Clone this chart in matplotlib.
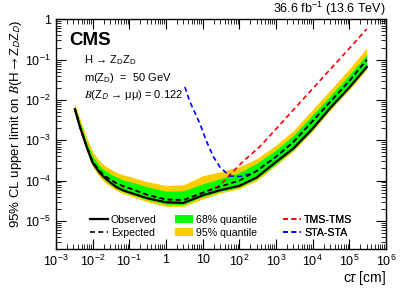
import matplotlib

matplotlib.use("Agg")
import matplotlib.pyplot as plt
from matplotlib.lines import Line2D
from matplotlib.patches import Patch

plt.rcParams["font.family"] = ["Liberation Sans", "DejaVu Sans"]
plt.rcParams["mathtext.fontset"] = "custom"
plt.rcParams["mathtext.rm"] = "Liberation Sans"
plt.rcParams["mathtext.it"] = "Liberation Sans:italic"
plt.rcParams["mathtext.sf"] = "Liberation Sans"

# c*tau scan points [cm]
ct = [0.0033, 0.0045, 0.007, 0.01, 0.015, 0.02, 0.03, 0.045, 0.07, 0.1, 0.3, 1, 3,
      10, 30, 100, 300, 1000, 3000, 1e4, 3e4, 1e5, 3e5]
observed = [5.9e-3, 2.2e-3, 6.6e-4, 2.8e-4, 1.65e-4, 1.24e-4, 9.1e-5, 6.9e-5, 5.7e-5, 5.1e-5,
            3.7e-5, 2.9e-5, 2.8e-5,
            4.3e-5, 5.8e-5, 7.4e-5, 1.2e-4, 2.9e-4, 6.3e-4, 1.95e-3, 6.3e-3, 2.04e-2, 6.6e-2]
expected = [5.9e-3, 2.2e-3, 6.8e-4, 3.0e-4, 1.8e-4, 1.38e-4, 1.07e-4, 8.6e-5, 7.2e-5, 6.5e-5,
            4.5e-5, 3.4e-5, 3.3e-5,
            5.0e-5, 7.1e-5, 1.0e-4, 1.74e-4, 3.9e-4, 9.1e-4, 3.0e-3, 8.9e-3, 2.95e-2, 0.10]
q68_hi = [7.1e-3, 2.8e-3, 8.7e-4, 4.0e-4, 2.4e-4, 1.9e-4, 1.5e-4, 1.22e-4, 1.04e-4, 9.6e-5,
          7.1e-5, 5.5e-5, 5.6e-5,
          8.3e-5, 1.12e-4, 1.58e-4, 2.7e-4, 5.8e-4, 1.32e-3, 4.3e-3, 1.26e-2, 4.2e-2, 0.135]
q68_lo = [5.4e-3, 2.0e-3, 6.0e-4, 2.6e-4, 1.5e-4, 1.13e-4, 8.4e-5, 6.4e-5, 5.3e-5, 4.8e-5,
          3.4e-5, 2.6e-5, 2.57e-5,
          4.0e-5, 5.4e-5, 6.9e-5, 1.12e-4, 2.6e-4, 5.9e-4, 1.86e-3, 6.0e-3, 1.95e-2, 6.3e-2]
q95_hi = [8.3e-3, 3.5e-3, 1.15e-3, 5.3e-4, 3.2e-4, 2.5e-4, 1.95e-4, 1.6e-4, 1.38e-4, 1.28e-4,
          9.5e-5, 7.6e-5, 7.9e-5,
          1.32e-4, 1.66e-4, 2.2e-4, 3.5e-4, 7.6e-4, 1.74e-3, 5.8e-3, 1.74e-2, 5.9e-2, 0.195]
q95_lo = [4.9e-3, 1.8e-3, 5.2e-4, 2.2e-4, 1.3e-4, 9.6e-5, 7.2e-5, 5.7e-5, 4.7e-5, 4.3e-5,
          3.0e-5, 2.3e-5, 2.3e-5,
          3.5e-5, 4.9e-5, 6.3e-5, 1.0e-4, 2.4e-4, 5.4e-4, 1.7e-3, 5.5e-3, 1.78e-2, 5.8e-2]

# individual category limits (expected)
ct_tms = [0.0033, 0.0045, 0.007, 0.01, 0.015, 0.02, 0.03, 0.045, 0.07, 0.1, 0.3, 1, 3, 10,
          30, 55, 125, 360, 1000, 1e4, 1e5, 3e5]
tms_tms = [5.9e-3, 2.2e-3, 6.8e-4, 3.0e-4, 1.8e-4, 1.38e-4, 1.07e-4, 8.6e-5, 7.2e-5, 6.5e-5,
           4.5e-5, 3.4e-5, 3.3e-5, 5.0e-5,
           7.6e-5, 1.38e-4, 2.95e-4, 6.9e-4, 1.9e-3, 1.9e-2, 0.19, 0.575]
ct_sta = [3.3, 4.5, 8.45, 12.9, 19.5, 29.5, 41, 56, 105, 235, 300, 1000, 3000, 1e4, 3e4, 1e5, 3e5]
sta_sta = [2.1e-2, 9.1e-3, 2.6e-3, 9.3e-4, 4.0e-4, 2.2e-4, 1.66e-4, 1.3e-4, 1.26e-4, 1.55e-4,
           1.74e-4, 3.9e-4, 9.1e-4, 3.0e-3, 8.9e-3, 2.95e-2, 0.10]

x_ticks = [1e-3, 1e-2, 1e-1, 1, 10, 1e2, 1e3, 1e4, 1e5, 1e6]
x_labels = ["$10^{-3}$", "$10^{-2}$", "$10^{-1}$", "1", "10", "$10^{2}$",
            "$10^{3}$", "$10^{4}$", "$10^{5}$", "$10^{6}$"]
y_ticks = [1e-5, 1e-4, 1e-3, 1e-2, 1e-1, 1]
y_labels = ["$10^{-5}$", "$10^{-4}$", "$10^{-3}$", "$10^{-2}$", "$10^{-1}$", "1"]

GREEN = "#00ff00"
YELLOW = "#ffcc00"
DASH = (0, (3, 2))

fig = plt.figure(figsize=(4.02, 2.89), dpi=100)
ax = fig.add_axes([0.139, 0.138, 0.821, 0.795])

ax.fill_between(ct, q95_lo, q95_hi, color=YELLOW, lw=0)
ax.fill_between(ct, q68_lo, q68_hi, color=GREEN, lw=0)
ax.plot(ct_tms, tms_tms, color="red", lw=1.2, ls=DASH)
ax.plot(ct_sta, sta_sta, color="blue", lw=1.2, ls=DASH)
ax.plot(ct, expected, color="black", lw=1.2, ls=DASH)
ax.plot(ct, observed, color="black", lw=1.6)

ax.set_xscale("log")
ax.set_yscale("log")
ax.set_xlim(1e-3, 1e6)
ax.set_ylim(2e-6, 1)
ax.set_xticks(x_ticks, x_labels)
ax.set_yticks(y_ticks, y_labels)
ax.tick_params(which="both", direction="in", top=True, right=True, labelsize=9)
ax.tick_params(which="major", length=7, width=0.8)
ax.tick_params(which="minor", length=3.5, width=0.6)
for s in ax.spines.values():
    s.set_linewidth(1.0)

ax.set_xlabel(r"c$\tau$ [cm]", fontsize=10, loc="right", labelpad=0)
ax.set_ylabel(r"95% CL upper limit on $\mathit{B}$(H$\rightarrow$Z$_{\mathsf{D}}$Z$_{\mathsf{D}}$)",
              fontsize=9.5, loc="top", labelpad=1, math_fontfamily="stix")
ax.text(1.0, 1.004, r"36.6 fb$^{-1}$ (13.6 TeV)", transform=ax.transAxes,
        ha="right", va="bottom", fontsize=9)

ax.text(0.042, 0.945, "CMS", transform=ax.transAxes, ha="left", va="top",
        fontsize=13.5, fontweight="bold")
ax.text(0.085, 0.824, r"H → Z$_{\mathsf{D}}$Z$_{\mathsf{D}}$", transform=ax.transAxes,
        ha="left", va="center", fontsize=8)
ax.text(0.085, 0.745, r"m(Z$_{\mathsf{D}}$)  =  50 GeV", transform=ax.transAxes,
        ha="left", va="center", fontsize=8)
ax.text(0.085, 0.671, r"$\mathit{B}$(Z$_{\mathsf{D}}$ → μμ) = 0.122", transform=ax.transAxes,
        ha="left", va="center", fontsize=8, math_fontfamily="stix")

# three legend columns, placed separately like the ROOT layout
columns = [
    (0.103, [Line2D([], [], color="black", lw=1.6),
             Line2D([], [], color="black", lw=1.2, ls=DASH)], ["Observed", "Expected"]),
    (0.361, [Patch(facecolor=GREEN), Patch(facecolor=YELLOW)], ["68% quantile", "95% quantile"]),
    (0.688, [Line2D([], [], color="red", lw=1.2, ls=DASH),
             Line2D([], [], color="blue", lw=1.2, ls=DASH)], ["TMS-TMS", "STA-STA"]),
]
for x0, hs, ls in columns:
    leg = ax.legend(hs, ls, loc="upper left", bbox_to_anchor=(x0, 0.15), borderaxespad=0,
                    frameon=False, fontsize=7.6, handlelength=1.7, handleheight=0.85,
                    handletextpad=0.3, labelspacing=0.3, borderpad=0)
    ax.add_artist(leg)

fig.savefig("out.png", dpi=100)
